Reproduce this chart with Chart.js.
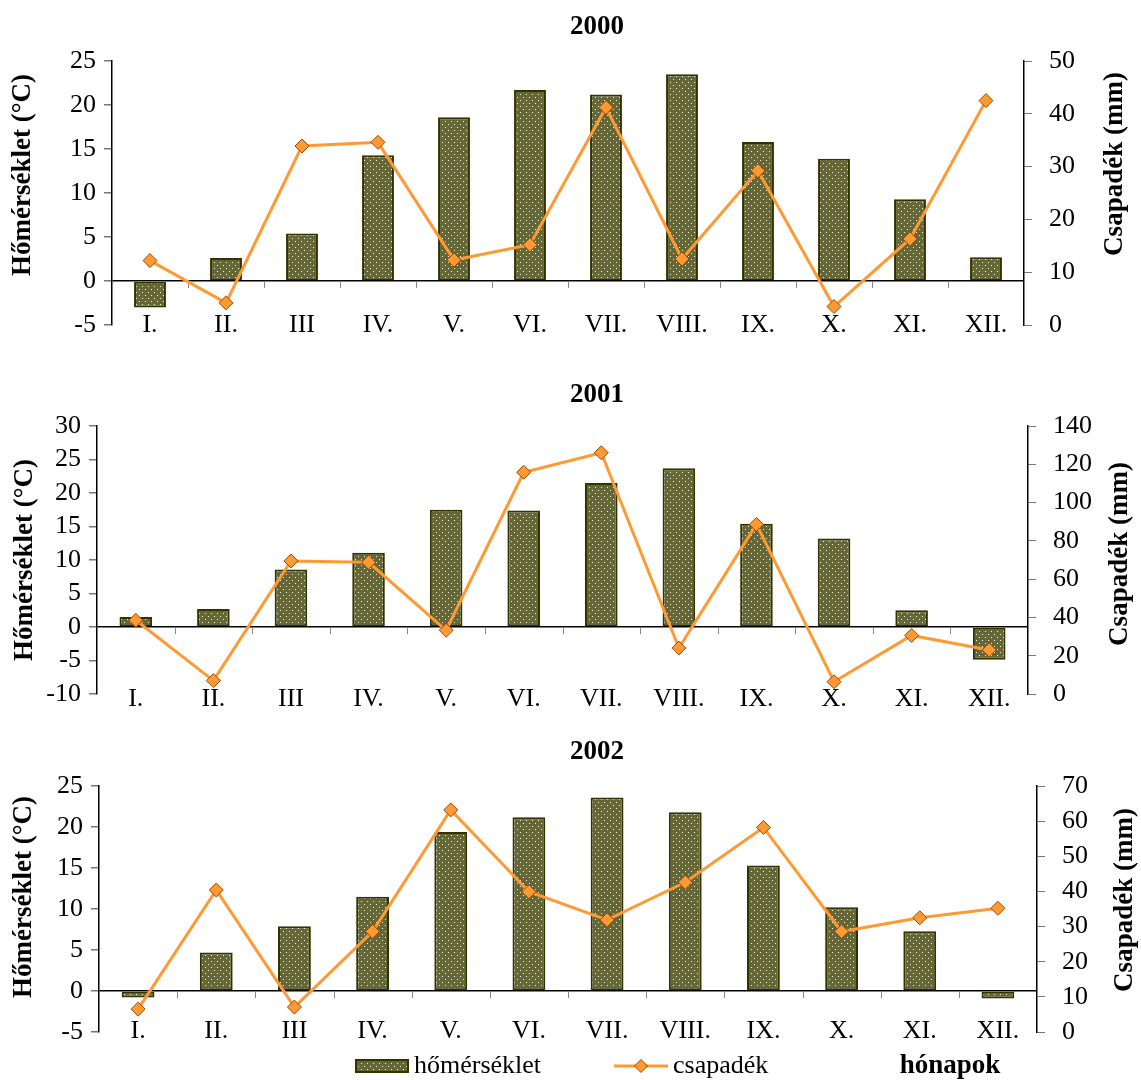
<!DOCTYPE html>
<html>
<head>
<meta charset="UTF-8">
<title>Hőmérséklet és csapadék 2000-2002</title>
<script src="https://cdn.jsdelivr.net/npm/chart.js"></script>
<style>
  body { margin: 0; background: #fff; }
  #wrap { position: relative; width: 1141px; height: 1080px; overflow: hidden; }
  canvas { position: absolute; left: 0; }
</style>
</head>
<body>
<div id="wrap">
  <canvas id="c2000" width="1141" height="350" style="top:0"></canvas>
  <canvas id="c2001" width="1141" height="360" style="top:360px"></canvas>
  <canvas id="c2002" width="1141" height="360" style="top:720px"></canvas>
</div>
<script>
// havi adatok (leolvasva az ábráról)
const months = ['I.', 'II.', 'III', 'IV.', 'V.', 'VI.', 'VII.', 'VIII.', 'IX.', 'X.', 'XI.', 'XII.'];

const temp2000 = [-3.0, 2.6, 5.4, 14.3, 18.6, 21.7, 21.2, 23.5, 15.8, 13.9, 9.3, 2.7];
const rain2000 = [12.2, 4.2, 33.9, 34.6, 12.3, 15.2, 41.2, 12.5, 29.2, 3.5, 16.3, 42.5];

const temp2001 = [1.5, 2.7, 8.6, 11.1, 17.5, 17.4, 21.5, 23.7, 15.4, 13.2, 2.5, -4.9];
const rain2001 = [38.5, 7.0, 69.5, 68.8, 33.3, 115.8, 126.0, 24.0, 88.6, 6.4, 30.6, 23.0];

const temp2002 = [-0.8, 4.7, 7.9, 11.5, 19.4, 21.2, 23.6, 21.8, 15.3, 10.2, 7.3, -0.9];
const rain2002 = [6.5, 40.4, 7.1, 28.6, 63.2, 39.9, 31.9, 42.6, 58.2, 28.6, 32.5, 35.2];

// tengely skálák: [min, max, lépés]
const tempAxis2000 = [-5, 25, 5];
const rainAxis2000 = [0, 50, 10];
const tempAxis2001 = [-10, 30, 5];
const rainAxis2001 = [0, 140, 20];
const tempAxis2002 = [-5, 25, 5];
const rainAxis2002 = [0, 70, 10];

const serif = "'Liberation Serif', 'Times New Roman', serif";
Chart.defaults.font.family = serif;
Chart.defaults.color = '#000';

const barBase = '#656835';
const barEdge = '#333300';
const lineColor = '#ff9933';
const pointEdge = '#9c4a00';

function dotPattern() {
  const c = document.createElement('canvas');
  c.width = 6; c.height = 6;
  const g = c.getContext('2d');
  g.fillStyle = barBase;
  g.fillRect(0, 0, 6, 6);
  g.fillStyle = '#f2f2e4';
  g.fillRect(1, 1, 1, 1);
  g.fillRect(4, 4, 1, 1);
  return g.createPattern(c, 'repeat');
}
const dots = dotPattern();

function vText(ctx, text, x, y) {
  ctx.save();
  ctx.translate(x, y);
  ctx.rotate(-Math.PI / 2);
  ctx.textAlign = 'center';
  ctx.textBaseline = 'middle';
  ctx.fillText(text, 0, 0);
  ctx.restore();
}

// a függőleges tengelyek ne tartsanak helyet a szélső feliratoknak
function fixY(width) {
  return (s) => { s.width = width; s.paddingTop = 0; s.paddingBottom = 0; };
}

// díszítések: cím, tengelycímek, kategória-osztások a 0 vonalon, jelmagyarázat
const decor = {
  id: 'decor',
  beforeDatasetsDraw(chart, args, o) {
    const ctx = chart.ctx, x = chart.scales.x, y0 = chart.scales.y.getPixelForValue(0);
    ctx.save();
    ctx.strokeStyle = '#888';
    ctx.lineWidth = 1;
    for (let i = 1; i < months.length; i++) {
      const px = Math.round((x.getPixelForValue(i - 1) + x.getPixelForValue(i)) / 2) + 0.5;
      ctx.beginPath();
      ctx.moveTo(px, y0);
      ctx.lineTo(px, y0 + 7);
      ctx.stroke();
    }
    ctx.restore();
  },
  afterDraw(chart, args, o) {
    const ctx = chart.ctx;
    ctx.save();
    ctx.fillStyle = '#000';
    ctx.font = 'bold 27px ' + serif;
    ctx.textAlign = 'center';
    ctx.textBaseline = 'middle';
    ctx.fillText(o.title, 597, o.titleY);
    vText(ctx, 'Hőmérséklet (°C)', o.lt[0], o.lt[1]);
    vText(ctx, 'Csapadék (mm)', o.rt[0], o.rt[1]);
    if (o.legend) {
      const ly = o.legend;
      ctx.fillStyle = dots;
      ctx.fillRect(356, ly - 6, 52, 12);
      ctx.strokeStyle = barEdge;
      ctx.lineWidth = 2;
      ctx.strokeRect(356, ly - 6, 52, 12);
      ctx.strokeStyle = lineColor;
      ctx.lineWidth = 3;
      ctx.beginPath();
      ctx.moveTo(614, ly);
      ctx.lineTo(668, ly);
      ctx.stroke();
      ctx.beginPath();
      ctx.moveTo(641, ly - 6.5); ctx.lineTo(647.5, ly); ctx.lineTo(641, ly + 6.5); ctx.lineTo(634.5, ly);
      ctx.closePath();
      ctx.fillStyle = lineColor;
      ctx.fill();
      ctx.strokeStyle = pointEdge;
      ctx.lineWidth = 1;
      ctx.stroke();
      ctx.fillStyle = '#000';
      ctx.font = '26px ' + serif;
      ctx.textAlign = 'left';
      ctx.fillText('hőmérséklet', 414, ly);
      ctx.fillText('csapadék', 673, ly);
      ctx.font = 'bold 27px ' + serif;
      ctx.textAlign = 'center';
      ctx.fillText('hónapok', 950, ly);
    }
    ctx.restore();
  }
};

function makeChart(p) {
  return new Chart(document.getElementById(p.id), {
    type: 'bar',
    data: {
      labels: months,
      datasets: [
        {
          type: 'line', label: 'csapadék', data: p.rain, yAxisID: 'y1', order: 0,
          borderColor: lineColor, borderWidth: 3, tension: 0, clip: false,
          pointStyle: 'rectRot', pointRadius: 7, pointHoverRadius: 7,
          pointBackgroundColor: lineColor, pointBorderColor: pointEdge, pointBorderWidth: 1
        },
        {
          type: 'bar', label: 'hőmérséklet', data: p.temp, yAxisID: 'y', order: 1,
          backgroundColor: dots, borderColor: barEdge, borderWidth: 2, borderSkipped: false,
          barPercentage: 0.42, categoryPercentage: 1
        }
      ]
    },
    options: {
      responsive: false,
      animation: false,
      events: [],
      layout: { padding: { top: p.top, left: 0, right: 0, bottom: 0 } },
      plugins: {
        legend: { display: false },
        title: { display: false },
        tooltip: { enabled: false },
        decor: { title: p.title, titleY: p.titleY, lt: p.lt, rt: p.rt, legend: p.legend }
      },
      scales: {
        x: {
          grid: { display: false, drawTicks: false },
          border: { display: false },
          // mirror: a feliratok a rajzterület aljára kerülnek (nem vágja le őket a tengely doboza)
          ticks: { font: { size: 26 }, mirror: true, padding: p.labelPad, maxRotation: 0, autoSkip: false },
          afterFit: (s) => { s.height = p.bottomH; }
        },
        y: {
          position: 'left',
          min: p.tAxis[0], max: p.tAxis[1],
          ticks: { stepSize: p.tAxis[2], font: { size: 26 }, padding: 8, autoSkip: false },
          grid: {
            color: (c) => (c.tick && c.tick.value === 0 ? '#000' : 'rgba(0,0,0,0)'),
            lineWidth: 1.5, tickColor: '#777', tickLength: 8
          },
          border: { color: '#000', width: 1.5 },
          afterFit: fixY(p.leftW)
        },
        y1: {
          position: 'right',
          min: p.rAxis[0], max: p.rAxis[1],
          ticks: { stepSize: p.rAxis[2], font: { size: 26 }, padding: 17, autoSkip: false },
          grid: { drawOnChartArea: false, tickColor: '#777', tickLength: 8 },
          border: { color: '#000', width: 1.5 },
          afterFit: fixY(p.rightW)
        }
      }
    },
    plugins: [decor]
  });
}

makeChart({ id: 'c2000', title: '2000', temp: temp2000, rain: rain2000, tAxis: tempAxis2000, rAxis: rainAxis2000,
  top: 61, leftW: 112, rightW: 117, bottomH: 25, labelPad: -16, titleY: 27, lt: [23, 175], rt: [1115, 164] });
makeChart({ id: 'c2001', title: '2001', temp: temp2001, rain: rain2001, tAxis: tempAxis2001, rAxis: rainAxis2001,
  top: 66, leftW: 97, rightW: 113, bottomH: 26, labelPad: -21, titleY: 35, lt: [25, 200], rt: [1120, 194] });
makeChart({ id: 'c2002', title: '2002', temp: temp2002, rain: rain2002, tAxis: tempAxis2002, rAxis: rainAxis2002,
  top: 66, leftW: 99, rightW: 104, bottomH: 48, labelPad: -15, titleY: 32, lt: [24, 177], rt: [1125, 180], legend: 346 });
</script>
</body>
</html>
